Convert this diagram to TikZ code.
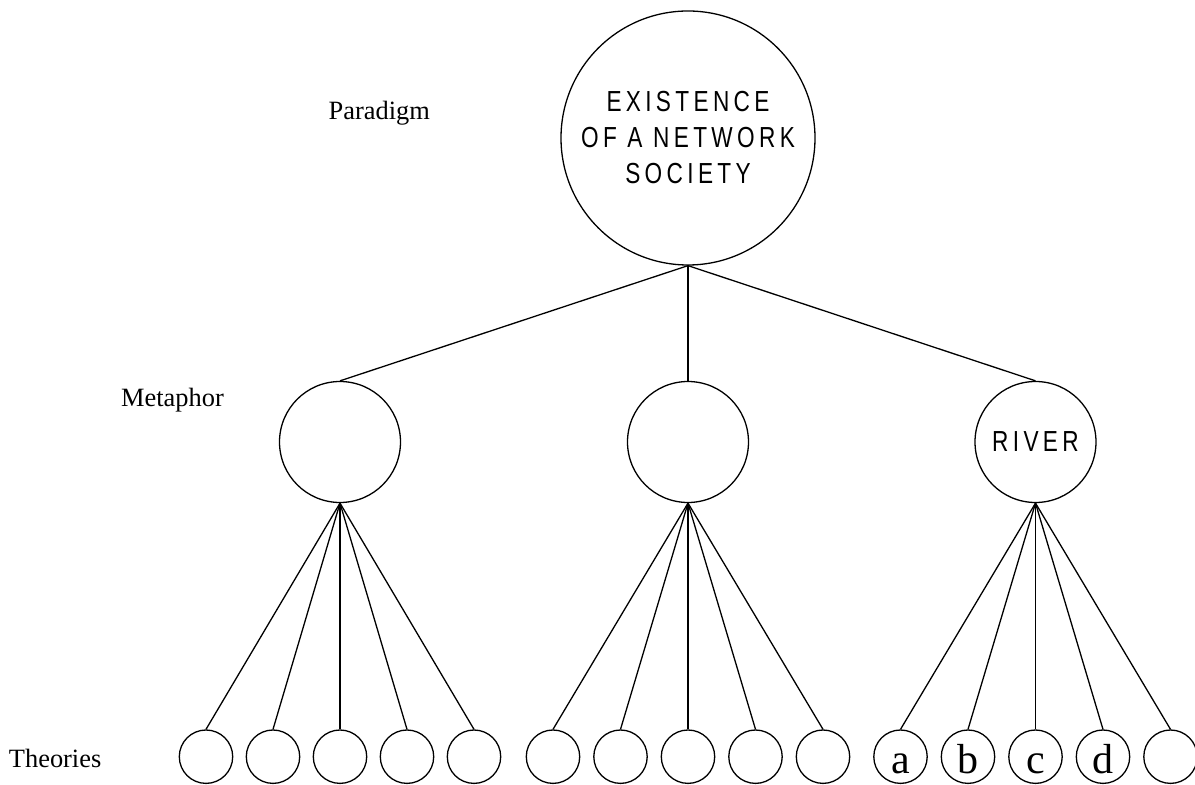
\documentclass[tikz,border=0pt]{standalone}
\usepackage{fontspec}
\setmainfont{Liberation Serif}
\newfontfamily\condfont[FakeStretch=0.78,LetterSpace=15]{Liberation Sans}
\begin{document}
\begin{tikzpicture}[x=0.5pt,y=-0.5pt,
  every path/.style={line width=0.65pt},
  bigcirc/.style={draw,circle,line width=0.65pt,inner sep=0pt,minimum size=127pt,align=center,
    font=\condfont\fontsize{14.5}{18}\selectfont},
  metacirc/.style={draw,circle,line width=0.65pt,inner sep=0pt,minimum size=60.5pt,
    font=\condfont\fontsize{14.5}{18}\selectfont},
  theocirc/.style={draw,circle,line width=0.65pt,inner sep=0pt,minimum size=26.7pt,
    text height=17.3pt,text depth=0pt,font=\fontsize{21}{21}\selectfont},
  levellabel/.style={anchor=base west,inner sep=0pt,font=\fontsize{13.2}{15}\selectfont},
  conn/.style={draw,line width=0.65pt}]
\useasboundingbox (0,0) rectangle (1195,785);

\node[bigcirc] (top) at (688,138) {EXISTENCE\\OF A NETWORK\\SOCIETY};

\node[metacirc] (m1) at (340,442) {};
\node[metacirc] (m2) at (688,442) {};
\node[metacirc] (m3) at (1035.5,442) {RIVER};

\node[levellabel] (lp) at (328,120) {Paradigm};
\node[levellabel] (lm) at (120.5,407) {Metaphor};
\node[levellabel] (lt) at (8.3,768) {Theories};

% theories
\node[theocirc] (t11) at (206,756.7) {};
\node[theocirc] (t12) at (273,756.7) {};
\node[theocirc] (t13) at (340,756.7) {};
\node[theocirc] (t14) at (407,756.7) {};
\node[theocirc] (t15) at (474,756.7) {};

\node[theocirc] (t21) at (553,756.7) {};
\node[theocirc] (t22) at (620.5,756.7) {};
\node[theocirc] (t23) at (688,756.7) {};
\node[theocirc] (t24) at (755.5,756.7) {};
\node[theocirc] (t25) at (823,756.7) {};

\node[theocirc] (t31) at (900.5,756.7) {a};
\node[theocirc] (t32) at (968,756.7) {b};
\node[theocirc] (t33) at (1035.5,756.7) {c};
\node[theocirc] (t34) at (1103,756.7) {d};
\node[theocirc] (t35) at (1170.5,756.7) {};

\foreach \m in {1,2,3} \draw[conn] (top.south) -- (m\m.north);
\foreach \m in {1,2,3} {
  \foreach \t in {1,...,5} \draw[conn] (m\m.south) -- (t\m\t.north);
}
\end{tikzpicture}
\end{document}
